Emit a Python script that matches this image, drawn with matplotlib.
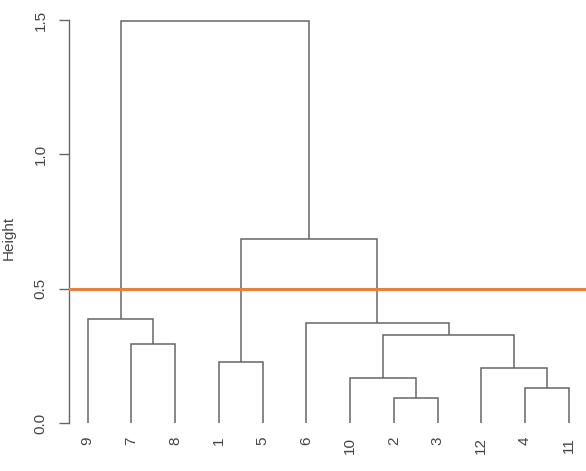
import matplotlib
matplotlib.use("Agg")
import matplotlib.pyplot as plt

plt.rcParams["font.family"] = ["Liberation Sans", "DejaVu Sans"]

# Leaf order (left to right) and hclust-style merges (negative = leaf label, positive = earlier merge)
leaf_order = [9, 7, 8, 1, 5, 6, 10, 2, 3, 12, 4, 11]
merge_left = [-2, -4, -10, -12, -1, -7, 3, -6, -9, 5, 9]
merge_right = [-3, -11, 1, 2, -5, -8, 4, 7, 6, 8, 10]
merge_height = [0.092, 0.130, 0.169, 0.206, 0.226, 0.295, 0.329, 0.371, 0.386, 0.686, 1.497]
cut_height = 0.5
yticks = [0.0, 0.5, 1.0, 1.5]
ytick_labels = ["0.0", "0.5", "1.0", "1.5"]

W, H = 586, 471
fig = plt.figure(figsize=(W / 100, H / 100), dpi=100)
ax = fig.add_axes([68.5 / W, (H - 439.1) / H, (W - 68.5) / W, 435.2 / H])

line_col = "#666666"
text_col = "#444444"

pos = {lab: i + 1 for i, lab in enumerate(leaf_order)}
node_x, node_h = [], []


def child(c):
    if c < 0:
        return pos[-c], 0.0
    return node_x[c - 1], node_h[c - 1]


for l, r, h in zip(merge_left, merge_right, merge_height):
    xl, hl = child(l)
    xr, hr = child(r)
    ax.plot([xl, xl, xr, xr], [hl, h, h, hr], color=line_col, lw=1.1,
            solid_joinstyle="miter", solid_capstyle="butt")
    node_x.append((xl + xr) / 2)
    node_h.append(h)

ax.axhline(cut_height, color="#e8803e", lw=2.2, zorder=3)

ax.set_xlim(0.56, 0.56 + (W - 68.5) / 43.73)
ax.set_ylim(-0.06, 1.56)

for s in ["top", "right", "bottom"]:
    ax.spines[s].set_visible(False)
ax.spines["left"].set_bounds(0, 1.5)
ax.spines["left"].set_color(line_col)
ax.spines["left"].set_linewidth(1.0)
ax.set_xticks([])
ax.set_yticks(yticks)
ax.set_yticklabels(ytick_labels, rotation=90, va="center", fontsize=11, color=text_col)
ax.tick_params(axis="y", length=7, width=1.0, color=line_col, pad=8)

for lab in leaf_order:
    ax.text(pos[lab], -0.052, str(lab), rotation=90, ha="center", va="top",
            fontsize=11, color=text_col, transform=ax.transData, clip_on=False)

fig.text(8.5 / W, 1 - 238 / H, "Height", rotation=90, ha="center", va="center",
         fontsize=11, color=text_col)

fig.savefig("out.png", dpi=100)
